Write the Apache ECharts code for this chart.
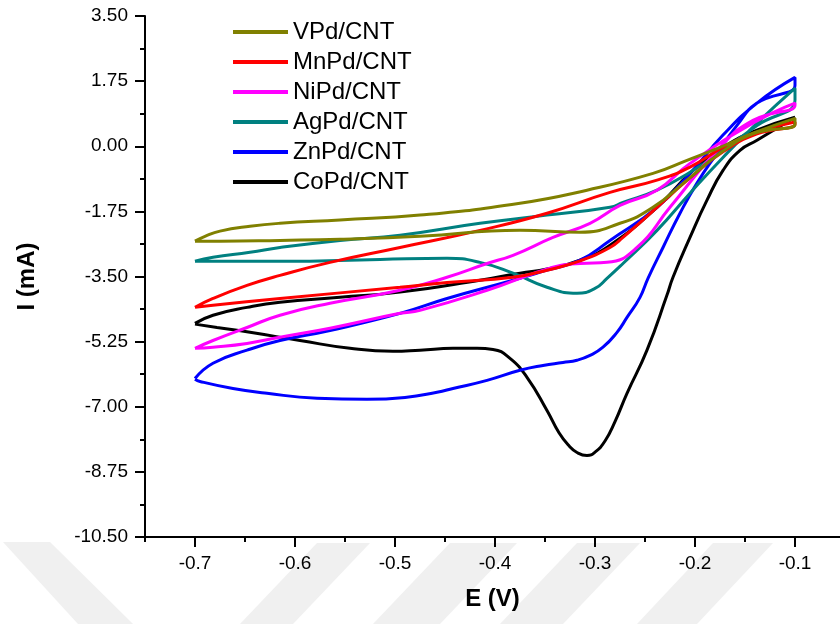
<!DOCTYPE html>
<html>
<head>
<meta charset="utf-8">
<script src="https://cdn.jsdelivr.net/npm/echarts@6/dist/echarts.min.js"></script>
<style>html,body{margin:0;padding:0;background:#fff}#c{width:840px;height:624px}</style>
</head>
<body>
<div id="c"></div>
<script>
// Series names (legend order)
const names = ['VPd/CNT','MnPd/CNT','NiPd/CNT','AgPd/CNT','ZnPd/CNT','CoPd/CNT'];
const colors = ['#808000','#FF0000','#FF00FF','#008080','#0000FF','#000000'];

// [E (V), I (mA)] pairs, forward sweep then reverse sweep
const vpd = [
  [-0.700,-2.55],[-0.690,-2.42],[-0.675,-2.28],[-0.645,-2.15],[-0.615,-2.07],[-0.555,-1.98],[-0.475,-1.85],
  [-0.375,-1.53],[-0.308,-1.18],[-0.242,-0.73],[-0.208,-0.38],[-0.175,-0.03],[-0.142,0.35],[-0.100,0.75],
  [-0.100,0.59],[-0.142,0.33],[-0.175,-0.19],[-0.208,-0.91],[-0.242,-1.64],[-0.275,-2.07],[-0.315,-2.31],
  [-0.375,-2.26],[-0.475,-2.42],[-0.555,-2.50],[-0.615,-2.53],[-0.675,-2.55],[-0.700,-2.55]
];
const mnpd = [
  [-0.700,-4.33],[-0.682,-4.09],[-0.648,-3.74],[-0.615,-3.47],[-0.565,-3.12],[-0.495,-2.72],[-0.415,-2.26],
  [-0.348,-1.80],[-0.285,-1.24],[-0.238,-0.91],[-0.205,-0.56],[-0.172,-0.03],[-0.138,0.38],[-0.100,0.65],
  [-0.100,0.59],[-0.138,0.33],[-0.172,-0.15],[-0.205,-0.85],[-0.238,-1.64],[-0.255,-2.05],[-0.272,-2.45],
  [-0.285,-2.72],[-0.315,-3.08],[-0.348,-3.33],[-0.382,-3.52],[-0.448,-3.66],[-0.495,-3.79],[-0.615,-4.09],
  [-0.682,-4.27],[-0.700,-4.33]
];
const nipd = [
  [-0.700,-5.43],[-0.682,-5.22],[-0.648,-4.87],[-0.615,-4.54],[-0.565,-4.22],[-0.495,-3.87],[-0.448,-3.52],
  [-0.408,-3.15],[-0.382,-2.93],[-0.342,-2.45],[-0.305,-2.07],[-0.275,-1.59],[-0.238,-1.18],[-0.205,-0.46],
  [-0.140,0.65],[-0.100,1.16],
  [-0.100,1.10],[-0.142,0.70],[-0.175,-0.03],[-0.225,-1.64],[-0.258,-2.72],[-0.288,-3.12],[-0.315,-3.15],
  [-0.342,-3.25],[-0.408,-3.87],[-0.475,-4.41],[-0.495,-4.49],[-0.565,-4.89],[-0.615,-5.13],[-0.648,-5.30],
  [-0.682,-5.40],[-0.700,-5.43]
];
const agpd = [
  [-0.700,-3.09],[-0.682,-2.98],[-0.645,-2.85],[-0.615,-2.72],[-0.555,-2.53],[-0.495,-2.39],[-0.415,-2.07],
  [-0.348,-1.85],[-0.285,-1.64],[-0.272,-1.51],[-0.238,-1.18],[-0.205,-0.70],[-0.172,-0.11],[-0.138,0.56],
  [-0.100,1.24],
  [-0.100,1.56],[-0.138,0.62],[-0.172,-0.30],[-0.205,-1.26],[-0.238,-2.26],[-0.272,-3.15],[-0.288,-3.55],
  [-0.300,-3.82],[-0.318,-3.95],[-0.348,-3.79],[-0.382,-3.41],[-0.415,-3.12],[-0.448,-3.01],[-0.515,-3.04],
  [-0.615,-3.09],[-0.682,-3.09],[-0.700,-3.09]
];
const znpd = [
  [-0.700,-6.24],[-0.682,-5.83],[-0.648,-5.48],[-0.615,-5.22],[-0.565,-4.95],[-0.495,-4.49],[-0.448,-4.09],
  [-0.382,-3.60],[-0.348,-3.33],[-0.315,-3.06],[-0.285,-2.53],[-0.238,-1.64],[-0.205,-0.73],[-0.172,0.30],
  [-0.138,1.16],[-0.100,1.85],
  [-0.100,1.64],[-0.138,1.16],[-0.158,0.56],[-0.178,-0.19],[-0.198,-0.99],[-0.215,-1.80],[-0.232,-2.72],
  [-0.247,-3.55],[-0.255,-4.06],[-0.268,-4.60],[-0.278,-5.00],[-0.292,-5.40],[-0.305,-5.62],[-0.318,-5.75],
  [-0.332,-5.81],[-0.352,-5.89],[-0.375,-6.02],[-0.408,-6.29],[-0.442,-6.51],[-0.458,-6.61],[-0.490,-6.75],
  [-0.528,-6.80],[-0.578,-6.77],[-0.628,-6.64],[-0.662,-6.51],[-0.695,-6.32],[-0.700,-6.26]
];
const copd = [
  [-0.700,-4.76],[-0.682,-4.54],[-0.648,-4.33],[-0.615,-4.19],[-0.555,-4.06],[-0.495,-3.92],[-0.415,-3.60],
  [-0.375,-3.41],[-0.348,-3.30],[-0.315,-3.06],[-0.285,-2.66],[-0.238,-1.64],[-0.205,-0.73],[-0.172,-0.03],
  [-0.138,0.43],[-0.100,0.78],
  [-0.138,0.16],[-0.155,-0.11],[-0.172,-0.65],[-0.188,-1.45],[-0.205,-2.45],[-0.222,-3.52],[-0.228,-4.00],
  [-0.248,-5.48],[-0.268,-6.64],[-0.280,-7.40],[-0.290,-7.92],[-0.300,-8.22],[-0.308,-8.31],[-0.318,-8.23],
  [-0.326,-8.05],[-0.336,-7.70],[-0.348,-7.10],[-0.368,-6.21],[-0.385,-5.70],[-0.402,-5.46],[-0.418,-5.43],
  [-0.442,-5.43],[-0.475,-5.48],[-0.502,-5.51],[-0.545,-5.43],[-0.595,-5.22],[-0.645,-5.00],[-0.678,-4.87],
  [-0.700,-4.78]
];
const seriesData = [vpd, mnpd, nipd, agpd, znpd, copd];

// Tick labels
const xMajorTicks = [-0.7,-0.6,-0.5,-0.4,-0.3,-0.2,-0.1];
const xMinorTicks = [-0.75,-0.65,-0.55,-0.45,-0.35,-0.25,-0.15];
const yTickLabels = ['-10.50','-8.75','-7.00','-5.25','-3.50','-1.75','0.00','1.75','3.50'];

const FONT = 'Liberation Sans, Arial, sans-serif';
const chart = echarts.init(document.getElementById('c'), null, {renderer:'canvas'});

const series = [];
for (let i = names.length - 1; i >= 0; i--) {
  series.push({
    name: names[i], type: 'line', data: seriesData[i], showSymbol: false, symbol: 'none',
    smooth: 0.5, xAxisIndex: 0, yAxisIndex: 0,
    lineStyle: {color: colors[i], width: 3}, itemStyle: {color: colors[i]}
  });
}

function band(pts){
  return {type:'polygon', silent:true, z:-10, shape:{points:pts}, style:{fill:'#f0f0f0'}};
}

chart.setOption({
  animation: false,
  backgroundColor: '#ffffff',
  graphic: [
    band([[3,542],[50,542],[133,624],[78,624]]),
    band([[317,543],[370,543],[293,624],[240,624]]),
    band([[450,543],[517,543],[440,624],[373,624]]),
    band([[577,543],[640,543],[563,624],[500,624]]),
    band([[713,543],[773,543],[697,624],[637,624]])
  ],
  grid: {left: 145, top: 16, right: 0, bottom: 87, containLabel: false},
  legend: {
    data: names, orient: 'vertical', left: 228, top: 15,
    itemWidth: 55, itemHeight: 4, itemGap: 6,
    icon: 'rect',
    textStyle: {fontFamily: FONT, fontSize: 24, color: '#000', lineHeight: 24}
  },
  xAxis: [{
    type: 'value', min: -0.75, max: -0.055, position: 'bottom',
    name: 'E (V)', nameLocation: 'middle', nameGap: 50,
    nameTextStyle: {fontFamily: FONT, fontSize: 24, fontWeight: 'bold', color: '#000'},
    axisLine: {show: true, onZero: false, lineStyle: {color: '#000', width: 2}},
    axisTick: {show: true, customValues: xMajorTicks, length: 10, lineStyle: {color: '#000', width: 2}},
    axisLabel: {customValues: xMajorTicks, formatter: v => v.toFixed(1), fontFamily: FONT, fontSize: 19, color: '#000', margin: 17},
    splitLine: {show: false}
  }, {
    type: 'value', min: -0.75, max: -0.055, position: 'bottom', offset: 0,
    axisLine: {show: false, onZero: false},
    axisTick: {show: true, customValues: xMinorTicks, length: 5, lineStyle: {color: '#000', width: 2}},
    axisLabel: {show: false},
    splitLine: {show: false}
  }],
  yAxis: {
    type: 'value', min: -10.5, max: 3.5, interval: 1.75,
    name: 'I (mA)', nameLocation: 'middle', nameGap: 106,
    nameTextStyle: {fontFamily: FONT, fontSize: 24, fontWeight: 'bold', color: '#000'},
    axisLine: {show: true, onZero: false, lineStyle: {color: '#000', width: 2}},
    axisTick: {show: true, length: 10, lineStyle: {color: '#000', width: 2}},
    minorTick: {show: true, splitNumber: 2, length: 5, lineStyle: {color: '#000', width: 2}},
    axisLabel: {
      formatter: v => { const s = v.toFixed(2); return yTickLabels.indexOf(s) >= 0 ? s : ''; },
      fontFamily: FONT, fontSize: 19, color: '#000', margin: 17
    },
    splitLine: {show: false}
  },
  series: series
});
</script>
</body>
</html>
